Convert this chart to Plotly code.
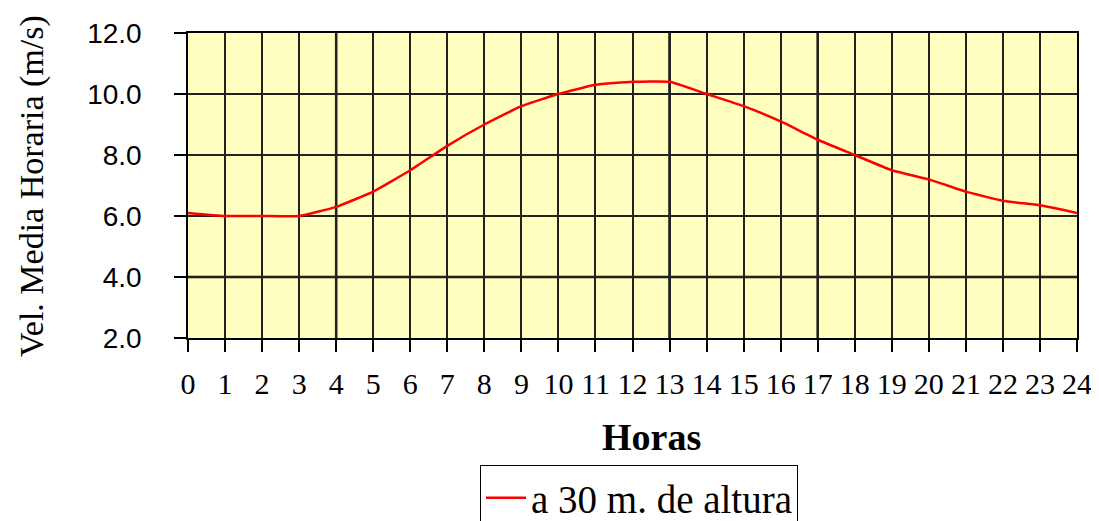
import plotly.graph_objects as go

hours = list(range(0, 25))
speed = [6.1, 6.0, 6.0, 6.0, 6.3, 6.8, 7.5, 8.3, 9.0, 9.6, 10.0, 10.3, 10.4,
         10.4, 10.0, 9.6, 9.1, 8.5, 8.0, 7.5, 7.2, 6.8, 6.5, 6.35, 6.1]
series_name = "a 30 m. de altura"
x_title = "Horas"
y_title = "Vel. Media Horaria (m/s)"
y_ticks = [2, 4, 6, 8, 10, 12]
y_tick_labels = ["2.0", "4.0", "6.0", "8.0", "10.0", "12.0"]
heavy_hours = [4, 13, 17]
heavy_levels = [4]

# page body has an 8px default margin; figure sized to fill the rest of the window
OFF = 8
W, H = 1091, 513
ML, MR, MT, MB = 180, 22, 25, 183
PW, PH = W - ML - MR, H - MT - MB

def px_to_paper_x(px):
    return (px - OFF - ML) / PW

def px_to_paper_y(py):
    return (H - MB - (py - OFF)) / PH

fig = go.Figure()
fig.add_trace(go.Scatter(
    x=hours, y=speed, mode="lines", name=series_name,
    line=dict(color="#FF0000", width=2.5, shape="spline", smoothing=0.4),
    showlegend=True,
))

shapes = []
for h in heavy_hours:
    shapes.append(dict(type="line", xref="x", yref="paper", x0=h, x1=h, y0=0, y1=1,
                       line=dict(color="black", width=2.5), layer="below"))
for v in heavy_levels:
    shapes.append(dict(type="line", xref="paper", yref="y", x0=0, x1=1, y0=v, y1=v,
                       line=dict(color="black", width=2.5), layer="below"))

fig.update_layout(
    width=W, height=H,
    margin=dict(l=ML, r=MR, t=MT, b=MB, autoexpand=False),
    paper_bgcolor="white",
    plot_bgcolor="#FFFFC0",
    shapes=shapes,
    showlegend=True,
    legend=dict(
        x=px_to_paper_x(639), xanchor="center",
        y=px_to_paper_y(465), yanchor="top",
        itemwidth=40,
        font=dict(family="Liberation Serif, Times New Roman, serif", size=39, color="black"),
        bordercolor="black", borderwidth=1, bgcolor="white",
    ),
    xaxis=dict(
        range=[0, 24], tickmode="array", tickvals=hours,
        ticktext=[str(h) for h in hours],
        showgrid=True, gridcolor="#222222", gridwidth=1.5,
        showline=True, linecolor="black", linewidth=2, mirror=True,
        ticks="outside", ticklen=12, tickcolor="black", tickwidth=1.5,
        ticklabelstandoff=6,
        tickfont=dict(family="Liberation Serif, Times New Roman, serif", size=30, color="black"),
        zeroline=False,
    ),
    yaxis=dict(
        range=[2, 12], tickmode="array", tickvals=y_ticks, ticktext=y_tick_labels,
        showgrid=True, gridcolor="#222222", gridwidth=1.5,
        showline=True, linecolor="black", linewidth=1.5, mirror=True,
        ticks="outside", ticklen=12, tickcolor="black", tickwidth=1.5,
        ticklabelstandoff=27,
        tickfont=dict(family="Liberation Sans, Arial, sans-serif", size=28, color="black"),
        zeroline=False,
    ),
    annotations=[
        dict(text=y_title, textangle=-90, showarrow=False,
             xref="paper", yref="paper",
             x=px_to_paper_x(32), y=px_to_paper_y(186),
             xanchor="center", yanchor="middle",
             font=dict(family="Liberation Serif, Times New Roman, serif", size=34, color="black")),
        dict(text="<b>" + x_title + "</b>", showarrow=False,
             xref="paper", yref="paper",
             x=px_to_paper_x(651), y=px_to_paper_y(437),
             xanchor="center", yanchor="middle",
             font=dict(family="Liberation Serif, Times New Roman, serif", size=38, color="black")),
    ],
)

fig.write_html("out.html")
